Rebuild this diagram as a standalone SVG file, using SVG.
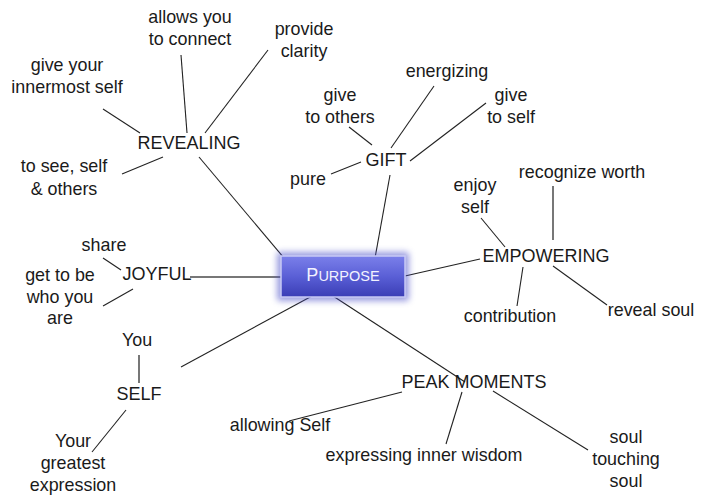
<svg xmlns="http://www.w3.org/2000/svg" width="704" height="500" viewBox="0 0 704 500">
<style>
text{font-family:"Liberation Sans",Arial,sans-serif;font-size:17.9px;fill:#1a1a1a;text-anchor:middle}
.t{font-size:18px}
.l{stroke:#222;stroke-width:1.1;fill:none}
.g{stroke:#777;stroke-width:2;fill:none}
</style>
<defs>
<linearGradient id="bg" x1="0" y1="0" x2="0" y2="1">
<stop offset="0" stop-color="#7b80ea"/>
<stop offset="0.5" stop-color="#5a5fd6"/>
<stop offset="1" stop-color="#3a3db5"/>
</linearGradient>
<filter id="glow" x="-20%" y="-40%" width="140%" height="180%">
<feGaussianBlur stdDeviation="3"/>
</filter>
</defs>
<g id="connectors">
<line class="l" x1="199" y1="157" x2="284" y2="258"/>
<line class="l" x1="390" y1="175" x2="375" y2="258"/>
<line class="g" x1="190" y1="277" x2="281" y2="277"/>
<line class="l" x1="405" y1="276" x2="480" y2="259"/>
<line class="l" x1="181" y1="367" x2="312" y2="296"/>
<line class="l" x1="333" y1="296" x2="465" y2="382"/>
<line class="l" x1="181" y1="55" x2="187" y2="133"/>
<line class="l" x1="268" y1="50" x2="205" y2="133"/>
<line class="l" x1="103" y1="109" x2="140" y2="133"/>
<line class="l" x1="122" y1="174" x2="163" y2="157"/>
<line class="l" x1="349" y1="127" x2="372" y2="145"/>
<line class="l" x1="434" y1="86" x2="391" y2="148"/>
<line class="l" x1="486" y1="103" x2="410" y2="161"/>
<line class="l" x1="331" y1="174" x2="361" y2="162"/>
<line class="l" x1="481" y1="218" x2="505" y2="247"/>
<line class="g" x1="553" y1="186" x2="553" y2="240"/>
<line class="l" x1="523" y1="267" x2="517" y2="306"/>
<line class="l" x1="553" y1="266" x2="607" y2="305"/>
<line class="l" x1="103" y1="258" x2="121" y2="270"/>
<line class="l" x1="103" y1="306" x2="133" y2="289"/>
<line class="g" x1="139" y1="355" x2="139" y2="383"/>
<line class="l" x1="92" y1="452" x2="126" y2="410"/>
<line class="l" x1="402" y1="392" x2="289" y2="421"/>
<line class="l" x1="462" y1="392" x2="446" y2="444"/>
<line class="l" x1="493" y1="391" x2="588" y2="450"/>
</g>
<g id="purpose">
<rect x="277" y="252" width="132" height="49" rx="3" fill="#4a4ec8" opacity="0.55" filter="url(#glow)"/>
<rect x="281" y="256" width="124" height="41" fill="url(#bg)" stroke="#c8caf5" stroke-width="1.5"/>
<text x="343" y="281" style="fill:#f2f2ff;font-size:18px">P<tspan style="font-size:14.5px">URPOSE</tspan></text>
</g>
<g id="revealing"><text class="t" x="189" y="149">REVEALING</text></g>
<g id="allows"><text x="190" y="23">allows you</text><text x="190" y="45">to connect</text></g>
<g id="clarity"><text x="304" y="35">provide</text><text x="304" y="57">clarity</text></g>
<g id="innermost"><text x="67" y="71">give your</text><text x="67" y="93">innermost self</text></g>
<g id="tosee"><text x="64" y="172">to see, self</text><text x="64" y="195">&amp; others</text></g>
<g id="gift"><text class="t" x="386" y="166">GIFT</text></g>
<g id="giveothers"><text x="340" y="101">give</text><text x="340" y="123">to others</text></g>
<g id="energizing"><text x="447" y="77">energizing</text></g>
<g id="giveself"><text x="511" y="101">give</text><text x="511" y="123">to self</text></g>
<g id="pure"><text x="308" y="185">pure</text></g>
<g id="empowering"><text class="t" x="546" y="262">EMPOWERING</text></g>
<g id="enjoy"><text x="475" y="191">enjoy</text><text x="475" y="213">self</text></g>
<g id="recognize"><text x="582" y="178">recognize worth</text></g>
<g id="contribution"><text x="510" y="322">contribution</text></g>
<g id="revealsoul"><text x="651" y="316">reveal soul</text></g>
<g id="joyful"><text class="t" x="157" y="280">JOYFUL</text></g>
<g id="share"><text x="104" y="251">share</text></g>
<g id="gettobe"><text x="60" y="281">get to be</text><text x="60" y="303">who you</text><text x="60" y="324">are</text></g>
<g id="selfn"><text class="t" x="139" y="400">SELF</text></g>
<g id="you"><text x="137" y="346">You</text></g>
<g id="greatest"><text x="73" y="447">Your</text><text x="73" y="469">greatest</text><text x="73" y="491">expression</text></g>
<g id="peak"><text class="t" x="474" y="388">PEAK MOMENTS</text></g>
<g id="allowing"><text x="280" y="431">allowing Self</text></g>
<g id="wisdom"><text x="424" y="461">expressing inner wisdom</text></g>
<g id="soul"><text x="626" y="443">soul</text><text x="626" y="465">touching</text><text x="626" y="487">soul</text></g>
</svg>
